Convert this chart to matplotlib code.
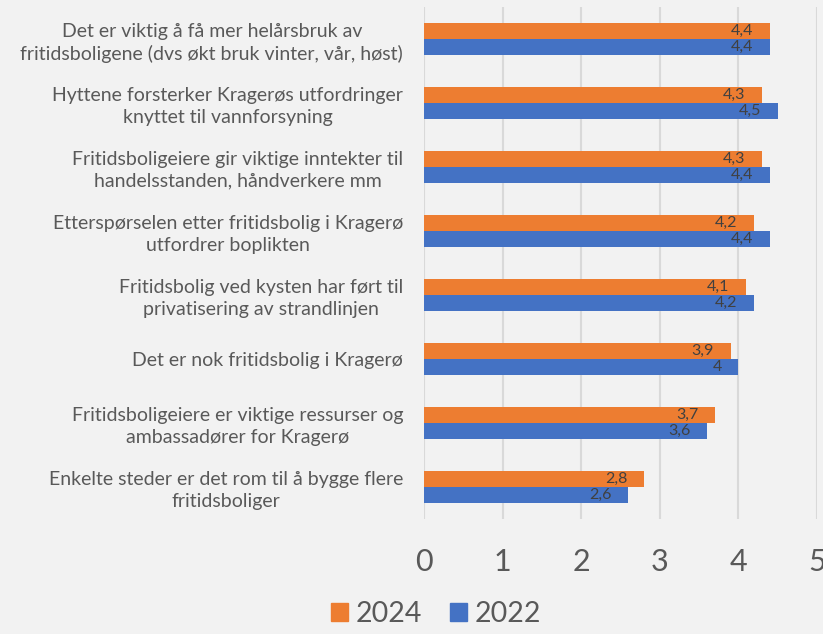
import numpy as np
import matplotlib.pyplot as plt
from matplotlib.patches import Patch

# survey statements, top to bottom
categories = [
    "Det er viktig å få mer helårsbruk av\nfritidsboligene (dvs økt bruk vinter, vår, høst)",
    "Hyttene forsterker Kragerøs utfordringer\nknyttet til vannforsyning",
    "Fritidsboligeiere gir viktige inntekter til\nhandelsstanden, håndverkere mm",
    "Etterspørselen etter fritidsbolig i Kragerø\nutfordrer boplikten",
    "Fritidsbolig ved kysten har ført til\nprivatisering av strandlinjen",
    "Det er nok fritidsbolig i Kragerø",
    "Fritidsboligeiere er viktige ressurser og\nambassadører for Kragerø",
    "Enkelte steder er det rom til å bygge flere\nfritidsboliger",
]
values_2024 = [4.4, 4.3, 4.3, 4.2, 4.1, 3.9, 3.7, 2.8]
values_2022 = [4.4, 4.5, 4.4, 4.4, 4.2, 4.0, 3.6, 2.6]
series_names = ["2024", "2022"]
xticks = [0, 1, 2, 3, 4, 5]

ORANGE = "#ED7D31"
BLUE = "#4472C4"
BG = "#F2F2F2"
TXT = "#595959"

plt.rcParams['font.family'] = ['Lato', 'DejaVu Sans']

fig = plt.figure(figsize=(8.23, 6.34), dpi=100, facecolor=BG)
ax = fig.add_axes([0.5152, 0.1814, 0.4775, 0.8076], facecolor=BG)

y = np.arange(len(categories))
h = 0.25
bars_24 = ax.barh(y - h / 2, values_2024, height=h, color=ORANGE, zorder=3)
bars_22 = ax.barh(y + h / 2, values_2022, height=h, color=BLUE, zorder=3)


def fmt(v):
    s = ("%.1f" % v).rstrip("0").rstrip(".")
    return s.replace(".", ",")


for bars, vals in [(bars_24, values_2024), (bars_22, values_2022)]:
    for b, v in zip(bars, vals):
        ax.annotate(fmt(v), (v, b.get_y() + b.get_height() / 2),
                    xytext=(-12, 0), textcoords="offset points",
                    ha="right", va="center", fontsize=11.5, color="#404040", zorder=4)

ax.set_ylim(len(categories) - 0.5, -0.5)
ax.set_xlim(0, 5)
ax.set_xticks(xticks)
ax.set_xticklabels([str(t) for t in xticks], fontsize=22, color=TXT)
ax.set_yticks(y)
ax.set_yticklabels(categories, fontsize=14, color=TXT, multialignment="center",
                   linespacing=1.3)
ax.tick_params(axis="both", length=0)
ax.tick_params(axis="y", pad=15)
ax.tick_params(axis="x", pad=21)
ax.grid(axis="x", color="#D9D9D9", linewidth=1.5, zorder=0)
for s in ax.spines.values():
    s.set_visible(False)

handles = [Patch(color=ORANGE), Patch(color=BLUE)]
fig.legend(handles, series_names, loc="center", bbox_to_anchor=(0.53, 0.032),
           ncol=2, frameon=False, fontsize=20.5, labelcolor=TXT,
           handlelength=0.6, handleheight=0.6, handletextpad=0.25, columnspacing=1.0)

fig.savefig("out.png", dpi=100, facecolor=BG)
